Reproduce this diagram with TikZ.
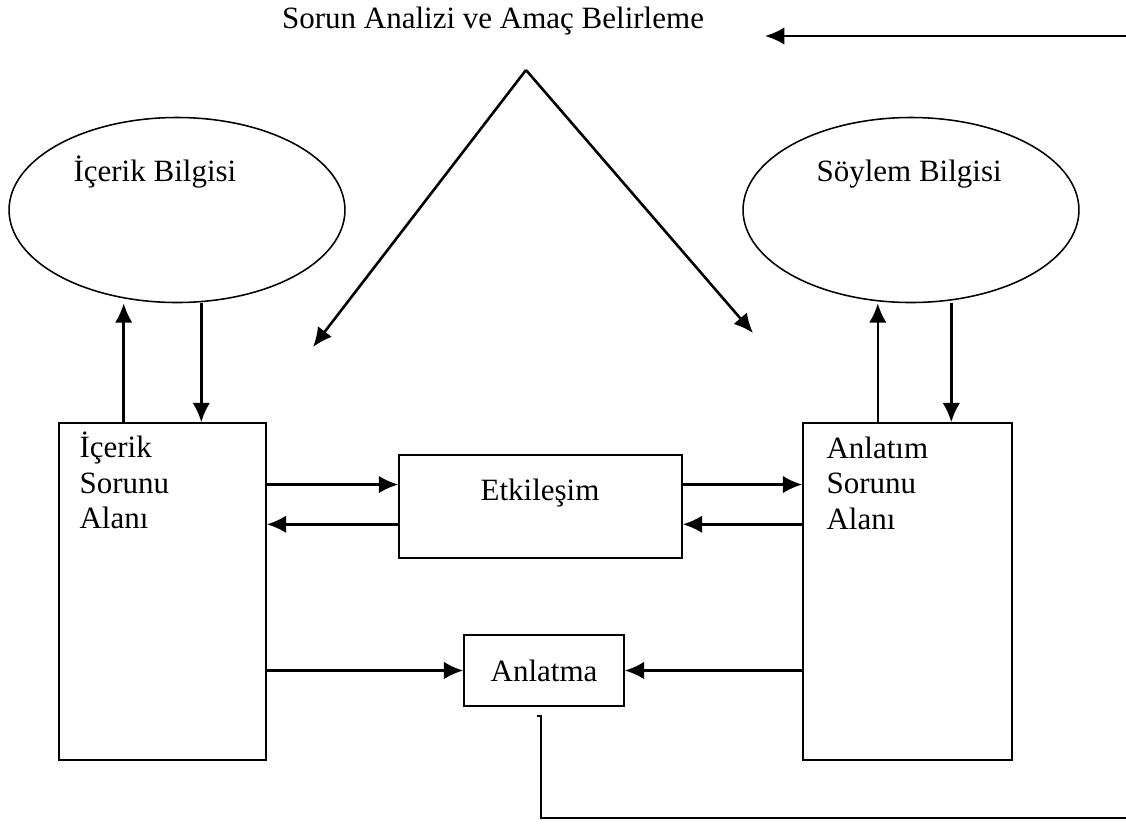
\documentclass[tikz,border=0pt]{standalone}
\usepackage{fontspec}
\setmainfont{Liberation Serif}
\usetikzlibrary{arrows.meta,shapes.geometric,calc}

\begin{document}
\begin{tikzpicture}[x=0.387pt,y=-0.387pt]
	\tikzset{kutu/.style = {shape=rectangle,draw,line width=.6pt,inner sep=0}}
	\tikzset{bilgi/.style = {shape=ellipse,draw,line width=.6pt,inner sep=0,minimum width=130pt,minimum height=71.6pt}}
	\tikzset{yazi/.style = {font=\fontsize{12}{13.9}\selectfont,inner sep=0}}
	\tikzset{ok/.style = {->,> = {Latex[length=7.5pt,width=6.8pt]},line width=1pt}}
	\useasboundingbox (0,0) rectangle (1126,823);
	% dugumler
	\node[yazi,anchor=base] (baslik) at (493,28) {Sorun Analizi ve Amaç Belirleme};
	\node[bilgi] (icbil) at (177,210) {};
	\node[bilgi] (soybil) at (911,210) {};
	\node[yazi,anchor=base west] (icbiltxt) at (73,181) {İçerik Bilgisi};
	\node[yazi,anchor=base west] (soybiltxt) at (816,181) {Söylem Bilgisi};
	\node[kutu,minimum width=80.1pt,minimum height=130.4pt] (icsor) at (162.5,591.5) {};
	\node[kutu,minimum width=80.9pt,minimum height=130.4pt] (ansor) at (907.5,591.5) {};
	\node[yazi,anchor=north west,align=left] (icsortxt) at (79,431) {İçerik\\Sorunu\\Alanı};
	\node[yazi,anchor=north west,align=left] (ansortxt) at (826,436) {Anlatım\\Sorunu\\Alanı};
	\node[kutu,minimum width=109.5pt,minimum height=39.9pt] (etk) at (540.5,506.5) {};
	\node[yazi,anchor=base] (etktxt) at (540,500) {Etkileşim};
	\node[kutu,yazi,minimum width=61.9pt,minimum height=27.5pt] (anl) at (544,670.5) {Anlatma};
	% serbest uclar
	\coordinate (tepe) at (526,70);
	\coordinate (soluc) at (313,347);
	\coordinate (saguc) at (753,333);
	\coordinate (ustsag) at (1126,36);
	\coordinate (ustsol) at (765,36);
	\coordinate (geri1) at (537,716);
	\coordinate (geri2) at (541,716);
	\coordinate (geri3) at (541,818);
	\coordinate (geri4) at (1126,818);
	% oklar
	\draw[ok] (ustsag) -- (ustsol);
	\draw[ok] (tepe) -- (soluc);
	\draw[ok] (tepe) -- (saguc);
	\coordinate (icyuk) at ($(icsor.north west)!0.314!(icsor.north east)$);
	\coordinate (icasa) at ($(icsor.north west)!0.686!(icsor.north east)$);
	\coordinate (anyuk) at ($(ansor.north west)!0.359!(ansor.north east)$);
	\coordinate (anasa) at ($(ansor.north west)!0.708!(ansor.north east)$);
	\draw[ok] (icyuk) -- (icyuk |- icbil.south);
	\draw[ok] (icasa |- icbil.south) -- (icasa);
	\draw[ok] (anyuk) -- (anyuk |- soybil.south);
	\draw[ok] (anasa |- soybil.south) -- (anasa);
	\coordinate (etkust) at ($(etk.north west)!0.29!(etk.south west)$);
	\coordinate (etkalt) at ($(etk.north west)!0.67!(etk.south west)$);
	\draw[ok] (etkust -| icsor.east) -- (etkust -| etk.west);
	\draw[ok] (etkalt -| etk.west) -- (etkalt -| icsor.east);
	\draw[ok] (etkust -| etk.east) -- (etkust -| ansor.west);
	\draw[ok] (etkalt -| ansor.west) -- (etkalt -| etk.east);
	\draw[ok] (anl.west -| icsor.east) -- (anl.west);
	\draw[ok] (anl.east -| ansor.west) -- (anl.east);
	\draw[line width=.9pt] (geri1) -- (geri2) -- (geri3) -- (geri4);
\end{tikzpicture}
\end{document}
